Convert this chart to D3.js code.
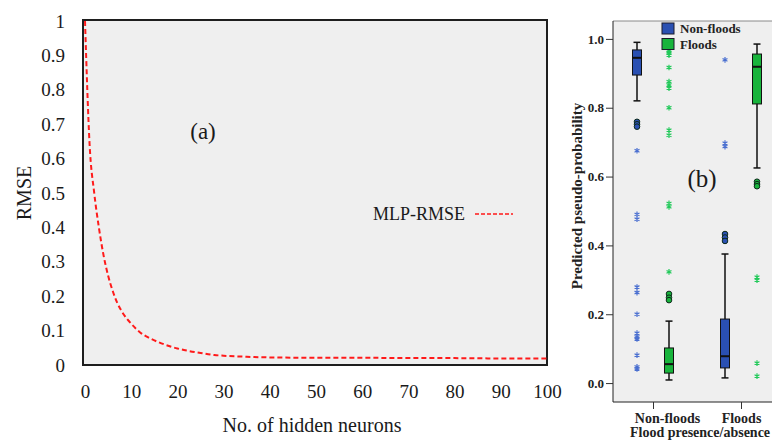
<!DOCTYPE html>
<html lang="en">
<head>
  <meta charset="UTF-8">
  <title>RMSE and predicted pseudo-probability</title>
  <script src="https://cdn.jsdelivr.net/npm/d3@7/dist/d3.min.js"></script>
  <style>
    body { margin: 0; background: #fff; }
    text { font-family: "Liberation Serif", "Times New Roman", serif; }
  </style>
</head>
<body>
  <script>
    // (a) MLP-RMSE against number of hidden neurons
    const neurons = [0, 1, 2, 3, 4, 5, 6, 7, 8, 10, 12, 14, 16, 18, 20, 22, 25, 28, 30, 35, 40, 50, 60, 70, 80, 90, 100]
    const rmse = [1.0, 0.64, 0.5, 0.4, 0.32, 0.26, 0.215, 0.18, 0.155, 0.12, 0.094, 0.078, 0.066, 0.056, 0.048, 0.042, 0.035, 0.029, 0.027, 0.024, 0.022, 0.021, 0.021, 0.02, 0.02, 0.019, 0.019]
    const xTicksA = [0, 10, 20, 30, 40, 50, 60, 70, 80, 90, 100]
    const yTicksA = [0, 0.1, 0.2, 0.3, 0.4, 0.5, 0.6, 0.7, 0.8, 0.9, 1]

    // (b) box plots: [min whisker, q1, median, q3, max whisker]
    const groups = ['Non-floods', 'Floods']
    const series = ['Non-floods', 'Floods']
    const yTicksB = [0, 0.2, 0.4, 0.6, 0.8, 1.0]
    const boxStats = [
      [[0.82, 0.895, 0.945, 0.968, 0.99], [0.009, 0.029, 0.055, 0.102, 0.18]],
      [[0.015, 0.044, 0.078, 0.186, 0.375], [0.625, 0.811, 0.919, 0.956, 0.985]]
    ]
    const boxCircles = [
      [[0.759, 0.752, 0.745], [0.259, 0.248, 0.241]],
      [[0.433, 0.423, 0.413], [0.585, 0.578, 0.572]]
    ]
    const boxStars = [
      [[0.675, 0.49, 0.476, 0.279, 0.263, 0.2, 0.145, 0.134, 0.128, 0.081, 0.047, 0.041],
       [0.965, 0.959, 0.953, 0.917, 0.876, 0.866, 0.857, 0.80, 0.735, 0.72, 0.522, 0.512, 0.323]],
      [[0.939, 0.697, 0.687], [0.308, 0.299, 0.058, 0.02]]
    ]

    const fills = ['#2a50b2', '#18b43c']
    const starColors = ['#4a6fd0', '#22c95a']

    const svg = d3.select('body')
      .append('svg')
      .attr('width', 772)
      .attr('height', 442)

    // ---------- panel (a) ----------
    const ax = d3.scaleLinear().domain([0, 100]).range([85, 547])
    const ay = d3.scaleLinear().domain([0, 1]).range([365, 21])

    svg.append('rect')
      .attr('x', 83).attr('y', 20)
      .attr('width', 464).attr('height', 345)
      .attr('fill', '#efefef')
      .attr('stroke', '#1e1e1e')
      .attr('stroke-width', 2)

    const xAxisA = svg.append('g')
      .attr('transform', 'translate(0,365)')
      .call(d3.axisBottom(ax).tickValues(xTicksA).tickSize(0).tickPadding(20))
    xAxisA.select('.domain').remove()
    xAxisA.selectAll('text').attr('font-size', 19).attr('fill', '#1a1a1a')
      .style('font-family', '"Liberation Serif", serif')

    const yAxisA = svg.append('g')
      .attr('transform', 'translate(83,0)')
      .call(d3.axisLeft(ay).tickValues(yTicksA).tickFormat(d3.format('~g')).tickSize(0).tickPadding(18))
    yAxisA.select('.domain').remove()
    yAxisA.selectAll('text').attr('font-size', 19).attr('fill', '#1a1a1a')
      .style('font-family', '"Liberation Serif", serif')

    const line = d3.line()
      .x((d, i) => ax(neurons[i]))
      .y(d => ay(d))
      .curve(d3.curveMonotoneX)

    svg.append('path')
      .datum(rmse)
      .attr('d', line)
      .attr('fill', 'none')
      .attr('stroke', '#ff1a1a')
      .attr('stroke-width', 2)
      .attr('stroke-dasharray', '5,3')

    svg.append('text')
      .attr('x', 24).attr('y', 193)
      .attr('transform', 'rotate(-90,24,193)')
      .attr('text-anchor', 'middle')
      .attr('dominant-baseline', 'central')
      .attr('font-size', 20)
      .attr('fill', '#1a1a1a')
      .text('RMSE')

    svg.append('text')
      .attr('x', 312).attr('y', 432)
      .attr('text-anchor', 'middle')
      .attr('font-size', 20)
      .attr('fill', '#1a1a1a')
      .text('No. of hidden neurons')

    svg.append('text')
      .attr('x', 203).attr('y', 139)
      .attr('text-anchor', 'middle')
      .attr('font-size', 23)
      .attr('fill', '#1a1a1a')
      .text('(a)')

    // legend
    svg.append('text')
      .attr('x', 373).attr('y', 220)
      .attr('font-size', 18)
      .attr('fill', '#1a1a1a')
      .text('MLP-RMSE')
    svg.append('line')
      .attr('x1', 475).attr('x2', 513)
      .attr('y1', 214).attr('y2', 214)
      .attr('stroke', '#ff1a1a')
      .attr('stroke-width', 1.5)
      .attr('stroke-dasharray', '4,2')

    // ---------- panel (b) ----------
    const by = d3.scaleLinear().domain([-0.055, 1.052]).range([402, 21])
    const bx = d3.scalePoint().domain(groups).range([653, 741])
    const sx = d3.scalePoint().domain(series).range([-16, 16])
    const boxW = 9

    svg.append('rect')
      .attr('x', 613).attr('y', 21)
      .attr('width', 172).attr('height', 381)
      .attr('fill', '#efefef')
    svg.append('line')
      .attr('x1', 613).attr('x2', 772).attr('y1', 21).attr('y2', 21)
      .attr('stroke', '#8a8a8a')

    const yAxisB = svg.append('g')
      .attr('transform', 'translate(613,0)')
      .call(d3.axisLeft(by).tickValues(yTicksB).tickFormat(d3.format('.1f')).tickSize(7).tickPadding(2))
    yAxisB.select('.domain').attr('d', 'M0,21V402').attr('stroke', '#222')
    yAxisB.selectAll('line').attr('stroke', '#333')
    yAxisB.selectAll('text').attr('font-size', 13).attr('font-weight', 'bold').attr('fill', '#222')
      .style('font-family', '"Liberation Serif", serif')

    const xAxisB = svg.append('g')
      .attr('transform', 'translate(0,402)')
      .call(d3.axisBottom(bx).tickSize(7).tickPadding(4))
    xAxisB.select('.domain').attr('d', 'M613,0H772').attr('stroke', '#222')
    xAxisB.selectAll('line').attr('stroke', '#333')
    xAxisB.selectAll('text')
      .attr('dx', (d, i) => i === 0 ? 14 : 0)
      .attr('font-size', 14).attr('font-weight', 'bold').attr('fill', '#222')
      .style('font-family', '"Liberation Serif", serif')

    svg.append('text')
      .attr('x', 700).attr('y', 437)
      .attr('text-anchor', 'middle')
      .attr('font-size', 14).attr('font-weight', 'bold')
      .attr('fill', '#222')
      .text('Flood presence/absence')

    svg.append('text')
      .attr('x', 577).attr('y', 196)
      .attr('transform', 'rotate(-90,577,196)')
      .attr('text-anchor', 'middle')
      .attr('dominant-baseline', 'central')
      .attr('font-size', 15).attr('font-weight', 'bold')
      .attr('fill', '#222')
      .text('Predicted pseudo-probability')

    groups.forEach((g, gi) => {
      series.forEach((s, si) => {
        const cx = bx(g) + sx(s)
        const [lo, q1, med, q3, hi] = boxStats[gi][si]
        const b = svg.append('g')

        b.append('line')
          .attr('x1', cx).attr('x2', cx)
          .attr('y1', by(hi)).attr('y2', by(lo))
          .attr('stroke', '#111').attr('stroke-width', 1.5)
        ;[lo, hi].forEach(v => {
          b.append('line')
            .attr('x1', cx - 3.5).attr('x2', cx + 3.5)
            .attr('y1', by(v)).attr('y2', by(v))
            .attr('stroke', '#111').attr('stroke-width', 1.5)
        })
        b.append('rect')
          .attr('x', cx - boxW / 2).attr('y', by(q3))
          .attr('width', boxW).attr('height', by(q1) - by(q3))
          .attr('fill', fills[si])
          .attr('stroke', '#111').attr('stroke-width', 1)
        b.append('line')
          .attr('x1', cx - boxW / 2).attr('x2', cx + boxW / 2)
          .attr('y1', by(med)).attr('y2', by(med))
          .attr('stroke', '#111').attr('stroke-width', 2)

        b.selectAll('circle')
          .data(boxCircles[gi][si])
          .join('circle')
          .attr('cx', cx).attr('cy', d => by(d))
          .attr('r', 2.8)
          .attr('fill', fills[si])
          .attr('stroke', '#0c2a1a').attr('stroke-width', 1)

        b.selectAll('path.star')
          .data(boxStars[gi][si])
          .join('path')
          .attr('class', 'star')
          .attr('transform', d => `translate(${cx},${by(d)})`)
          .attr('d', d3.symbol(d3.symbolAsterisk, 22))
          .attr('fill', 'none')
          .attr('stroke', starColors[si])
          .attr('stroke-width', 1.2)
      })
    })

    // legend (b)
    series.forEach((s, i) => {
      svg.append('rect')
        .attr('x', 662).attr('y', 23 + i * 15.5)
        .attr('width', 12).attr('height', 11)
        .attr('fill', fills[i])
        .attr('stroke', '#1a1a2a').attr('stroke-width', 1)
      svg.append('text')
        .attr('x', 680).attr('y', 33 + i * 15.5)
        .attr('font-size', 13).attr('font-weight', 'bold')
        .attr('fill', '#222')
        .text(s)
    })

    svg.append('text')
      .attr('x', 702).attr('y', 187)
      .attr('text-anchor', 'middle')
      .attr('font-size', 25)
      .attr('fill', '#1a1a1a')
      .text('(b)')
  </script>
</body>
</html>
